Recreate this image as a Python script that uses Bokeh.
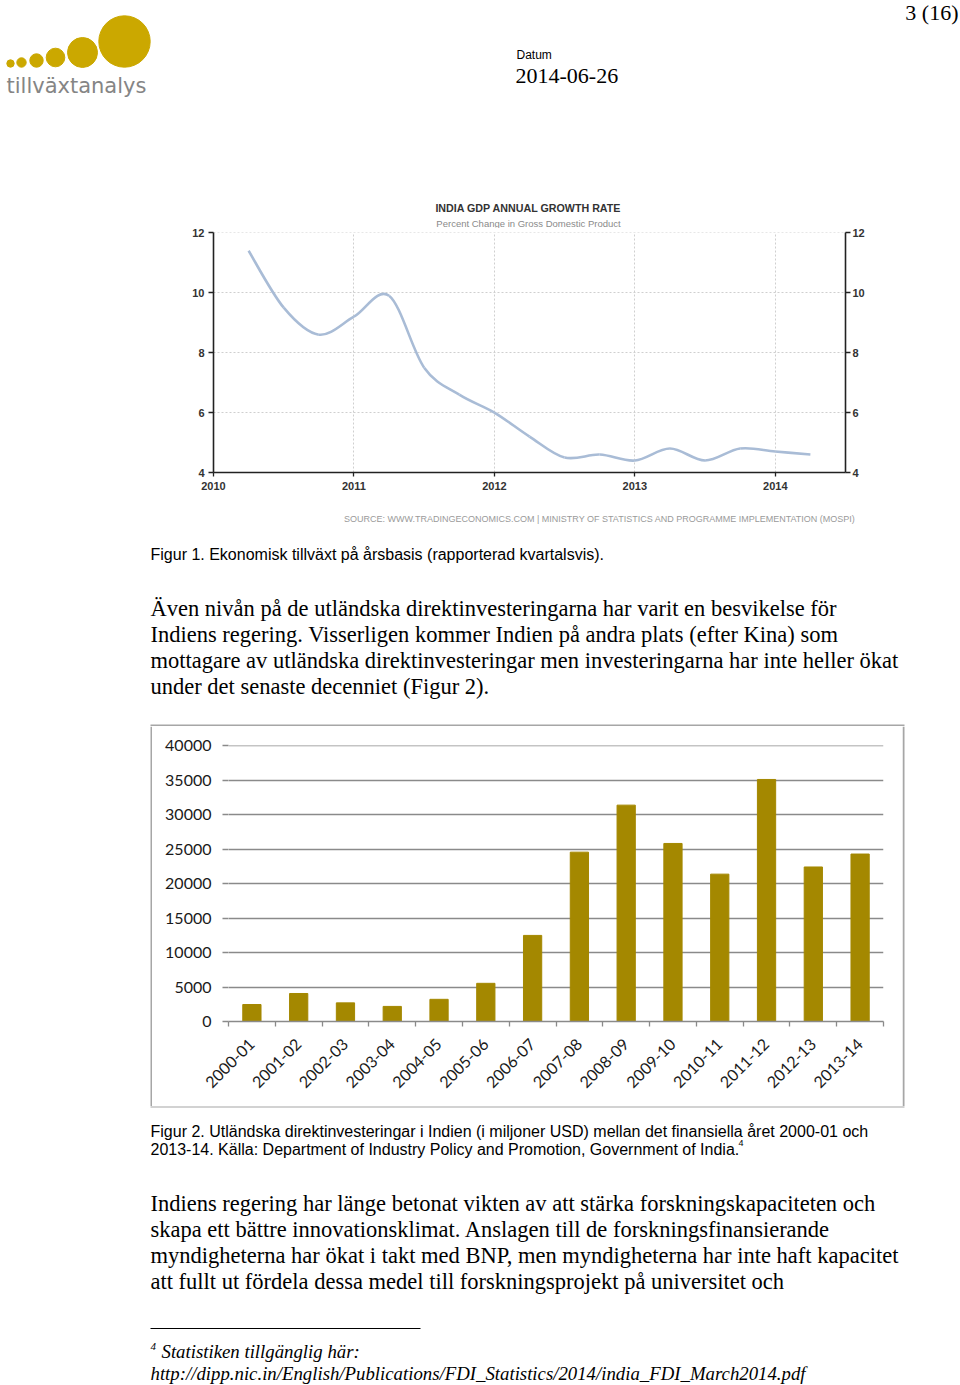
from math import pi
from bokeh.plotting import figure
from bokeh.layouts import column, row
from bokeh.models import Range1d, FixedTicker, LinearAxis, NumeralTickFormatter
from bokeh.core.properties import value
from bokeh.embed import file_html
from bokeh.resources import INLINE

# ---------------- data ----------------
gdp_quarter = [2010.25, 2010.5, 2010.75, 2011.0, 2011.25, 2011.5, 2011.75, 2012.0,
               2012.25, 2012.5, 2012.75, 2013.0, 2013.25, 2013.5, 2013.75, 2014.0, 2014.25]
gdp_growth = [11.4, 9.5, 8.6, 9.2, 9.9, 7.5, 6.6, 6.0,
              5.2, 4.5, 4.6, 4.4, 4.8, 4.4, 4.8, 4.7, 4.6]
gdp_year_ticks = [2010, 2011, 2012, 2013, 2014]
gdp_value_ticks = [4, 6, 8, 10, 12]

fdi_years = ["2000-01", "2001-02", "2002-03", "2003-04", "2004-05", "2005-06", "2006-07",
             "2007-08", "2008-09", "2009-10", "2010-11", "2011-12", "2012-13", "2013-14"]
fdi_values = [2463, 4065, 2705, 2188, 3219, 5540, 12492,
              24575, 31396, 25834, 21383, 35121, 22423, 24299]
fdi_value_ticks = [0, 5000, 10000, 15000, 20000, 25000, 30000, 35000, 40000]

# ---------------- page texts ----------------
chart1_title = "INDIA GDP ANNUAL GROWTH RATE"
chart1_subtitle = "Percent Change in Gross Domestic Product"
chart1_source = "SOURCE: WWW.TRADINGECONOMICS.COM  |  MINISTRY OF STATISTICS AND PROGRAMME IMPLEMENTATION (MOSPI)"
fig1_caption = "Figur 1. Ekonomisk tillväxt på årsbasis (rapporterad kvartalsvis)."
para1 = ["Även nivån på de utländska direktinvesteringarna har varit en besvikelse för",
         "Indiens regering.  Visserligen kommer Indien på andra plats (efter Kina) som",
         "mottagare av utländska direktinvesteringar men investeringarna har inte heller ökat",
         "under det senaste decenniet (Figur 2)."]
fig2_caption = ["Figur 2. Utländska direktinvesteringar i Indien (i miljoner USD) mellan det finansiella året 2000-01 och",
                "2013-14. Källa: Department of Industry Policy and Promotion, Government of India."]
para2 = ["Indiens regering har länge betonat vikten av att stärka forskningskapaciteten och",
         "skapa ett bättre innovationsklimat. Anslagen till de forskningsfinansierande",
         "myndigheterna har ökat i takt med BNP, men myndigheterna har inte haft kapacitet",
         "att fullt ut fördela dessa medel till forskningsprojekt på universitet och"]
footnote = ["Statistiken tillgänglig här:",
            "http://dipp.nic.in/English/Publications/FDI_Statistics/2014/india_FDI_March2014.pdf"]

W = 960
GOLD_LOGO = "#cba800"
BAR_GOLD = "#a48800"
BOX = "#a6a6a6"
SERIF = "Liberation Serif"
SANS = "Liberation Sans"


def text_fig(top, bottom, left=0, right=W):
    f = figure(width=right - left, height=bottom - top, x_range=Range1d(left, right),
               y_range=Range1d(bottom, top), output_backend="svg", toolbar_location=None,
               min_border=0, x_axis_location=None, y_axis_location=None)
    f.frame_align = False
    f.grid.visible = False
    f.outline_line_color = None
    f.background_fill_color = "white"
    f.border_fill_color = "white"
    return f


def put(f, x, y, s, font, size, color="#000000", align="left", style="normal"):
    f.text(x=[x], y=[y], text=[s], text_font=value(font), text_font_size=f"{size}px",
           text_color=color, text_align=align, text_baseline="middle", text_font_style=style)


# ---------------- header (incl. chart 1 titles) ----------------
hdr = text_fig(0, 228)
hdr.circle(x=[10, 21, 36, 55, 82, 124], y=[63, 62, 60, 57, 52, 41],
           radius=[3.7, 4.7, 6.7, 9.3, 15, 25.7], color=GOLD_LOGO)
put(hdr, 6, 85, "tillväxtanalys", "DejaVu Sans", 21, color="#858585")
put(hdr, 958, 12, "3 (16)", SERIF, 22, align="right")
put(hdr, 516, 54, "Datum", SANS, 12)
put(hdr, 515, 75, "2014-06-26", SERIF, 22)
put(hdr, 528, 207, chart1_title, SANS, 10.7, color="#333333", align="center", style="bold")
put(hdr, 528, 222.5, chart1_subtitle, SANS, 9.5, color="#8a8a8a", align="center")

# ---------------- line chart ----------------
L_TOP, L_BOT = 228, 500
FX0, FX1, FY0, FY1 = 213, 845, 232, 472
p1 = figure(width=W, height=L_BOT - L_TOP, x_range=Range1d(2010, 2014.5), y_range=Range1d(4, 12.01),
            output_backend="svg", toolbar_location=None,
            min_border_left=FX0, min_border_right=W - FX1,
            min_border_top=FY0 - L_TOP, min_border_bottom=L_BOT - FY1)
p1.frame_align = False
p1.outline_line_color = None
p1.background_fill_color = "white"
p1.border_fill_color = "white"
p1.add_layout(LinearAxis(), "right")
p1.xaxis.ticker = FixedTicker(ticks=gdp_year_ticks)
p1.xaxis.formatter = NumeralTickFormatter(format="0")
for ax in p1.yaxis:
    ax.ticker = FixedTicker(ticks=gdp_value_ticks)
for ax in list(p1.xaxis) + list(p1.yaxis):
    ax.axis_line_color = "#222222"
    ax.axis_line_width = 1.6
    ax.major_tick_line_color = "#222222"
    ax.major_tick_line_width = 1.3
    ax.major_tick_out = 5
    ax.major_tick_in = 0
    ax.minor_tick_line_color = None
    ax.major_label_text_font = SANS
    ax.major_label_text_font_size = "11px"
    ax.major_label_text_font_style = "bold"
    ax.major_label_text_color = "#333333"
p1.xaxis.major_tick_out = 4
p1.xaxis.major_label_standoff = 5
p1.yaxis[0].major_label_standoff = 4
p1.yaxis[1].major_label_standoff = 2
p1.xgrid.ticker = FixedTicker(ticks=gdp_year_ticks)
p1.ygrid.ticker = FixedTicker(ticks=gdp_value_ticks)
for g in (p1.xgrid, p1.ygrid):
    g.grid_line_color = "#cfcfcf"
    g.grid_line_dash = "2 2"
    g.grid_line_width = 1

# smooth curve through the quarterly points (Catmull-Rom as cubic Bezier)
n = len(gdp_quarter)
bx0, by0, bx1, by1, cx0, cy0, cx1, cy1 = [], [], [], [], [], [], [], []
for i in range(n - 1):
    a = max(i - 1, 0)
    d = min(i + 2, n - 1)
    bx0.append(gdp_quarter[i]); by0.append(gdp_growth[i])
    bx1.append(gdp_quarter[i + 1]); by1.append(gdp_growth[i + 1])
    cx0.append(gdp_quarter[i] + (gdp_quarter[i + 1] - gdp_quarter[a]) / 6)
    cy0.append(gdp_growth[i] + (gdp_growth[i + 1] - gdp_growth[a]) / 6)
    cx1.append(gdp_quarter[i + 1] - (gdp_quarter[d] - gdp_quarter[i]) / 6)
    cy1.append(gdp_growth[i + 1] - (gdp_growth[d] - gdp_growth[i]) / 6)
p1.bezier(x0=bx0, y0=by0, x1=bx1, y1=by1, cx0=cx0, cy0=cy0, cx1=cx1, cy1=cy1,
          line_color="#a9bcd6", line_width=2.6)

# ---------------- text block 1 (source, caption, paragraph, box top) ----------------
T1_TOP, T1_BOT = 500, 726
t1 = text_fig(T1_TOP, T1_BOT)
put(t1, 860, 518, chart1_source, SANS, 9, color="#9a9a9a", align="right")
put(t1, 150, 554, fig1_caption, SANS, 16)
for k, line in enumerate(para1):
    put(t1, 150, 608 + 26 * k, line, SERIF, 22.5)
t1.segment(x0=[150], y0=[725], x1=[904], y1=[725], line_color=BOX, line_width=2)

# ---------------- bar chart (inside box) ----------------
B_TOP, B_BOT = 726, 1106
B_LEFT, B_RIGHT = 152, 902
BX0, BX1, BY0, BY1 = 228, 883, 745, 1021
GRID = "#8a8a8a"
p2 = figure(width=B_RIGHT - B_LEFT, height=B_BOT - B_TOP,
            x_range=Range1d(-0.5, len(fdi_years) - 0.5),
            y_range=Range1d(0, 40050), output_backend="svg", toolbar_location=None,
            min_border_left=BX0 - B_LEFT, min_border_right=B_RIGHT - BX1,
            min_border_top=BY0 - B_TOP, min_border_bottom=B_BOT - BY1)
p2.frame_align = False
p2.outline_line_color = None
p2.background_fill_color = "white"
p2.border_fill_color = "white"
p2.vbar(x=list(range(len(fdi_years))), top=fdi_values, width=0.39, color=BAR_GOLD)
p2.xgrid.visible = False
p2.ygrid.ticker = FixedTicker(ticks=fdi_value_ticks)
p2.ygrid.grid_line_color = GRID
p2.ygrid.grid_line_width = 1.3
ya = p2.yaxis[0]
ya.ticker = FixedTicker(ticks=fdi_value_ticks)
ya.axis_line_color = None
ya.major_tick_line_color = GRID
ya.major_tick_line_width = 1.3
ya.major_tick_out = 6
ya.major_tick_in = 0
ya.minor_tick_line_color = None
ya.major_label_standoff = 11
ya.major_label_text_font = "Lato"
ya.major_label_text_font_size = "16px"
ya.major_label_text_color = "#1a1a1a"
xa = p2.xaxis[0]
xa.ticker = FixedTicker(ticks=list(range(len(fdi_years))),
                        minor_ticks=[i - 0.5 for i in range(len(fdi_years) + 1)])
xa.major_label_overrides = {i: c for i, c in enumerate(fdi_years)}
xa.axis_line_color = GRID
xa.axis_line_width = 1.3
xa.major_tick_line_color = None
xa.major_tick_out = 0
xa.major_tick_in = 0
xa.minor_tick_line_color = GRID
xa.minor_tick_line_width = 1.3
xa.minor_tick_out = 5
xa.minor_tick_in = 0
xa.major_label_orientation = pi / 4
xa.major_label_standoff = 15
xa.major_label_text_font = "Lato"
xa.major_label_text_font_size = "16px"
xa.major_label_text_color = "#1a1a1a"

box_left = text_fig(B_TOP, B_BOT, 0, B_LEFT)
box_left.segment(x0=[151], y0=[B_TOP], x1=[151], y1=[B_BOT], line_color=BOX, line_width=2)
box_right = text_fig(B_TOP, B_BOT, B_RIGHT, W)
box_right.segment(x0=[903], y0=[B_TOP], x1=[903], y1=[B_BOT], line_color=BOX, line_width=2)
bar_row = row(box_left, p2, box_right, spacing=0)

# ---------------- text block 2 ----------------
t2 = text_fig(1106, 1385)
t2.segment(x0=[150], y0=[1106], x1=[904], y1=[1106], line_color=BOX, line_width=2)
put(t2, 150, 1131, fig2_caption[0], SANS, 16)
put(t2, 150, 1149, fig2_caption[1], SANS, 16)
put(t2, 738, 1142, "4", SANS, 9)
for k, line in enumerate(para2):
    put(t2, 150, 1203 + 26 * k, line, SERIF, 22.5)
t2.segment(x0=[150], y0=[1328], x1=[420], y1=[1328], line_color="#000000", line_width=1)
put(t2, 150, 1346, "4", SERIF, 11, style="italic")
put(t2, 161, 1351, footnote[0], SERIF, 18.8, style="italic")
put(t2, 150, 1373, footnote[1], SERIF, 18.8, style="italic")

page = column(hdr, p1, t1, bar_row, t2, spacing=0)
open("out.html", "w").write(file_html(page, INLINE))
